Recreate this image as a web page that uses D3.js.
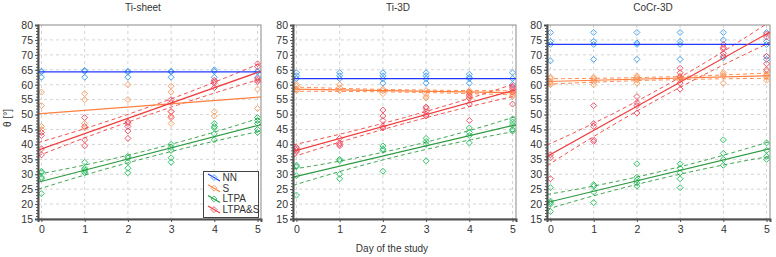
<!DOCTYPE html>
<html><head><meta charset="utf-8">
<script src="https://cdn.jsdelivr.net/npm/d3@7"></script>
<style>
body{margin:0;background:#fff;}
svg{display:block;font-family:"Liberation Sans",Arial,sans-serif;}
</style></head>
<body><svg id="c" width="776" height="257"></svg>
<script>
const days = [0,1,2,3,4,5];
const groups = ["NN","S","LTPA","LTPA&S"];
const panelTitles = ["Ti-sheet","Ti-3D","CoCr-3D"];
const yTicks = [15,20,25,30,35,40,45,50,55,60,65,70,75,80];
const xLabel = "Day of the study";
const yLabel = "θ [°]";

// points per day (index = day)
const tiSheetNN = [[64.5,64.3,62.5],[64.8,64.5,62.5],[64.5,64.2,62.5],[64.5,64.3,62.5],[65,64.5,62.5],[64.5,64.3,62.5]];
const tiSheetS = [[57.5,53,46,45],[57,55,47,45.5],[60,55],[59.5,57.5,51,49.5,47],[51,49.5],[58.5,52]];
const tiSheetLTPA = [[31,30.5,29,28.5,23.5],[34,32,31.5,31,30.5],[36,35.5,34,32,30.5],[40,39,38,35.5,34],[47,46,45.5,43.5,41.5],[49,48,47,45,44]];
const tiSheetLTPAS = [[44,43,38.5,36.5],[49,46,41.5,39.5],[47.5,47,46,44.5,42],[55,54,51,49],[61.5,61,60.5,59],[67,66,62,61.5,61]];

const ti3dNN = [[64,63,62],[64,63,62],[64,63,62,60.5],[64,63,62,60.5],[63.5,62.5,62,60.5],[64,62,60]];
const ti3dS = [[60,59.5,58.5,58],[60,59,58],[58.5,58,57],[58,57,56,55.5],[58,57.5,57,56,55.5],[57.5,56.5,56]];
const ti3dLTPA = [[33,32.5,29.5,23],[35,34.5,30,28.5],[39.5,38.5,38,31],[42,41,40,34.5],[45.5,44,43,40.5],[48.5,47.5,46.5,45,44.5]];
const ti3dLTPAS = [[39,38.5,38,37.5],[42,40.5,40,39.5],[51.5,49.5,48,46,45.5],[52.5,52,51,50,49.5],[57.5,56.5,55.5,53.5,48],[59.5,59,58.5,57.5,53.5]];

const cocrNN = [[77.5,74.5,73.5,68],[77.5,74.5,73.5,68.5],[77.5,74,73.5,68.5],[77.5,74.5,73.5,68.5],[77.5,75,69],[77.5,74.5,73.5,69.5,68.5]];
const cocrS = [[62.5,62,61,60.5,60],[62.5,62,61.5,61,60],[63,62.5,62,61.5,60.5],[63,62.5,62,61.5],[64,63.5,63,60.5],[64.5,63.5,63,62.5,61.5]];
const cocrLTPA = [[25.5,21,20.5,20,17.5],[26.5,26,24,20.5],[33.5,29,28,27,26],[33.5,32,30.5,28.5,25.5],[41.5,37,35,33],[40.5,38,36,35]];
const cocrLTPAS = [[36.5,35.5,28.5],[53,47,46,41.5,41],[56,54,53,50.5],[65.5,64,62.5,60.5,58.5],[73.5,72.5,72,70.5,69.5],[77,76,69.5,67,65]];

// fitted lines: value at day 0 and day 5 (order NN,S,LTPA,LTPA&S)
const tiSheetFit = [[64.3,64.3],[50.3,55.8],[27.6,46.3],[38.5,64.1]];
const ti3dFit = [[62,62],[58.5,57.3],[29.3,46.3],[38,58]];
const cocrFit = [[73.5,73.5],[61.1,63.0],[20.8,38.3],[36.6,77]];
// confidence bands: values at day 0, 2.5, 5
const bandDays = [0,2.5,5];
const tiSheetLo = [null,null,[25.3,35.75,44.2],[36.6,50.0,61.6]];
const tiSheetHi = [null,null,[30.2,38.15,48.6],[40.9,52.6,66.8]];
const ti3dLo = [null,[57.8,57.5,56.6],[26.6,36.6,44.2],[36.2,47.0,56.0]];
const ti3dHi = [null,[59.2,58.3,58.0],[31.9,39.0,49.0],[40.1,49.0,60.1]];
const cocrLo = [null,[60.2,61.55,62.1],[18.6,28.35,35.8],[33.6,55.2,73.6]];
const cocrHi = [null,[62.0,62.55,63.9],[23.4,30.75,40.6],[40.3,58.4,80.4]];

const panels = [
  {title:panelTitles[0], pts:[tiSheetNN,tiSheetS,tiSheetLTPA,tiSheetLTPAS], fit:tiSheetFit, lo:tiSheetLo, hi:tiSheetHi},
  {title:panelTitles[1], pts:[ti3dNN,ti3dS,ti3dLTPA,ti3dLTPAS], fit:ti3dFit, lo:ti3dLo, hi:ti3dHi},
  {title:panelTitles[2], pts:[cocrNN,cocrS,cocrLTPA,cocrLTPAS], fit:cocrFit, lo:cocrLo, hi:cocrHi}
];

const markerCol = ["#4aa3f2","#f8a46c","#35c46c","#f0566c"];
const lineCol = ["#2038ff","#ff8040","#2b9a40","#f03c3c"];

const svg = d3.select("#c");
const lefts = [38, 293, 547];
const pw = 223, plotTop = 25, plotBottom = 219;
const dom = [-0.08, 5.08];
const y = d3.scaleLinear().domain([15,80]).range([plotBottom, plotTop]);
const diamond = "M0,-3L3,0L0,3L-3,0Z";

panels.forEach((p, pi) => {
  const x = d3.scaleLinear().domain(dom).range([lefts[pi], lefts[pi]+pw]);
  const g = svg.append("g");
  const cid = "clip"+pi;
  svg.append("clipPath").attr("id",cid).append("rect")
    .attr("x",lefts[pi]).attr("y",plotTop).attr("width",pw).attr("height",plotBottom-plotTop);

  // grid
  g.selectAll(".gy").data(yTicks.slice(1,-1)).enter().append("line")
    .attr("x1",lefts[pi]).attr("x2",lefts[pi]+pw).attr("y1",d=>y(d)).attr("y2",d=>y(d))
    .attr("stroke","#d4d4d4").attr("stroke-dasharray","3,3");
  g.selectAll(".gx").data(days).enter().append("line")
    .attr("x1",d=>x(d)).attr("x2",d=>x(d)).attr("y1",plotTop).attr("y2",plotBottom)
    .attr("stroke","#d4d4d4").attr("stroke-dasharray","3,3");

  // frame
  g.append("rect").attr("x",lefts[pi]).attr("y",plotTop).attr("width",pw).attr("height",plotBottom-plotTop)
    .attr("fill","none").attr("stroke","#8a8a8a").attr("stroke-width",1);

  const cg = g.append("g").attr("clip-path",`url(#${cid})`);
  // points
  p.pts.forEach((series, gi) => {
    series.forEach((vals, di) => {
      cg.selectAll(null).data(vals).enter().append("path")
        .attr("d",diamond).attr("transform",v=>`translate(${x(days[di])},${y(v)})`)
        .attr("fill","none").attr("stroke",markerCol[gi]).attr("stroke-width",1);
    });
  });
  // bands
  const xs = d3.range(0,41).map(i => dom[0] + (dom[1]-dom[0])*i/40);
  function quad(vals){ // smooth curve through the three read values
    const [a,b,c] = vals, [x0,x1,x2] = bandDays;
    return t => a*(t-x1)*(t-x2)/((x0-x1)*(x0-x2)) + b*(t-x0)*(t-x2)/((x1-x0)*(x1-x2)) + c*(t-x0)*(t-x1)/((x2-x0)*(x2-x1));
  }
  const line = d3.line().x(d=>x(d[0])).y(d=>y(d[1]));
  [p.lo, p.hi].forEach(arr => arr.forEach((vals, gi) => {
    if(!vals) return;
    const f = quad(vals);
    cg.append("path").attr("d", line(xs.map(t=>[t,f(t)])))
      .attr("fill","none").attr("stroke",lineCol[gi]).attr("stroke-width",1)
      .attr("stroke-dasharray","4,3").attr("opacity",0.9);
  }));
  // fits
  p.fit.forEach((fv, gi) => {
    const f = t => fv[0] + (fv[1]-fv[0])*t/5;
    cg.append("path").attr("d", line(dom.map(t=>[t,f(t)])))
      .attr("fill","none").attr("stroke",lineCol[gi]).attr("stroke-width",1.2);
  });

  // axes
  const ya = d3.axisLeft(y).tickValues(yTicks).tickSize(3).tickPadding(2);
  const yag = g.append("g").attr("transform",`translate(${lefts[pi]},0)`).call(ya);
  const ymin = d3.axisLeft(y).tickValues(d3.range(15,81,1)).tickSize(2).tickFormat("");
  g.append("g").attr("transform",`translate(${lefts[pi]},0)`).call(ymin)
    .call(s=>s.select(".domain").remove()).selectAll("line").attr("stroke","#555");
  const xa = d3.axisBottom(x).tickValues(days).tickFormat(d3.format("d")).tickSize(3).tickPadding(4);
  const xag = g.append("g").attr("transform",`translate(0,${plotBottom})`).call(xa);
  [yag,xag].forEach(a=>{
    a.select(".domain").attr("stroke","#505050").attr("stroke-width",2);
    a.selectAll(".tick line").attr("stroke","#505050");
    a.selectAll("text").attr("fill","#333").style("font-size","10.5px").style("font-family","Liberation Sans, Arial, sans-serif");
  });

  // title
  svg.append("text").attr("x",[143,398,653][pi]).attr("y",11).attr("text-anchor","middle")
    .attr("fill","#333").style("font-size","10px").text(p.title);
});

svg.append("text").attr("x",392).attr("y",252).attr("text-anchor","middle")
  .attr("fill","#333").style("font-size","10px").text(xLabel);
svg.append("text").attr("transform","translate(11,118) rotate(-90)").attr("text-anchor","middle")
  .attr("fill","#333").style("font-size","10px").text(yLabel);

// legend
const lg = svg.append("g");
lg.append("rect").attr("x",203.5).attr("y",171.5).attr("width",55).attr("height",46)
  .attr("fill","#fff").attr("stroke","#444").attr("stroke-width",1);
groups.forEach((name, i) => {
  const cy = 177.5 + i*10.7;
  lg.append("line").attr("x1",208).attr("y1",cy-3.5).attr("x2",220).attr("y2",cy+3.5)
    .attr("stroke",lineCol[i]).attr("stroke-width",1.2);
  lg.append("path").attr("d",diamond).attr("transform",`translate(214,${cy})`)
    .attr("fill","none").attr("stroke",markerCol[i]);
  lg.append("text").attr("x",222.5).attr("y",cy+3.5).attr("fill","#333")
    .style("font-size","10px").text(name);
});
</script></body></html>
